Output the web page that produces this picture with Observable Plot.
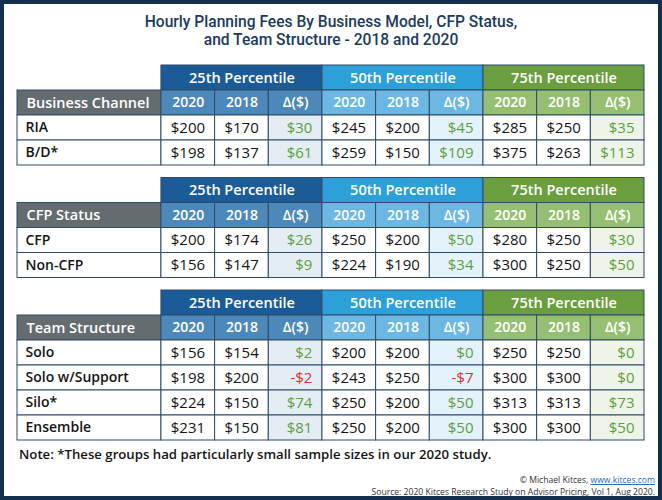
<!DOCTYPE html>
<html>
<head>
<meta charset="utf-8">
<script src="https://cdn.jsdelivr.net/npm/d3@7"></script>
<script src="https://cdn.jsdelivr.net/npm/@observablehq/plot@0.6"></script>
<style>
  html, body { margin: 0; padding: 0; background: #fff; }
  body { width: 662px; height: 500px; position: relative; overflow: hidden; font-family: "Open Sans", "Noto Sans", sans-serif; }
  #frame { position: absolute; left: 0; top: 0; width: 662px; height: 500px; box-sizing: border-box; border: 4px solid #132f4f; pointer-events: none; z-index: 5; }
  .title { position: absolute; left: 0; width: 662px; text-align: center; font-family: Roboto, "Open Sans", sans-serif; font-size: 15.6px; line-height: 16px; font-weight: 500; color: #1d3a5e; white-space: nowrap; }
  #t1 { top: 13.5px; }
  #t2 { top: 32px; }
  #chart { position: absolute; left: 0; top: 60px; }
  #note { position: absolute; left: 19px; top: 445px; font-size: 13.2px; line-height: 18px; font-weight: 600; color: #141414; white-space: nowrap; }
  #credits { position: absolute; right: 7px; top: 475px; font-size: 8.6px; line-height: 11.5px; color: #333; text-align: right; white-space: nowrap; }
  #credits a { color: #2a6db8; text-decoration: underline; }
</style>
</head>
<body>
<div id="frame"></div>
<div class="title" id="t1">Hourly Planning Fees By Business Model, CFP Status,</div>
<div class="title" id="t2">and Team Structure - 2018 and 2020</div>
<div id="chart"></div>
<div id="note">Note: *These groups had particularly small sample sizes in our 2020 study.</div>
<div id="credits">© Michael Kitces, <a>www.kitces.com</a><br>Source: 2020 Kitces Research Study on Advisor Pricing, Vol 1, Aug 2020.</div>
<script>
// ---- data ----
const percentiles = ["25th Percentile", "50th Percentile", "75th Percentile"];
const columnLabels = ["2020", "2018", "Δ($)"];
const sectionTitles = ["Business Channel", "CFP Status", "Team Structure"];

const businessRows = ["RIA", "B/D*"];
// per row: [p25 2020, p25 2018, p25 Δ, p50 2020, p50 2018, p50 Δ, p75 2020, p75 2018, p75 Δ]
const businessValues = [
  [200, 170, 30, 245, 200, 45, 285, 250, 35],
  [198, 137, 61, 259, 150, 109, 375, 263, 113]
];
const cfpRows = ["CFP", "Non-CFP"];
const cfpValues = [
  [200, 174, 26, 250, 200, 50, 280, 250, 30],
  [156, 147, 9, 224, 190, 34, 300, 250, 50]
];
const teamRows = ["Solo", "Solo w/Support", "Silo*", "Ensemble"];
const teamValues = [
  [156, 154, 2, 200, 200, 0, 250, 250, 0],
  [198, 200, -2, 243, 250, -7, 300, 300, 0],
  [224, 150, 74, 250, 200, 50, 313, 313, 73],
  [231, 150, 81, 250, 200, 50, 300, 300, 50]
];

// ---- styles / layout ----
const headFill = ["#1b5c98", "#2da0da", "#6a9e3e"];
const subFill = ["#4d88ba", "#6cb8e3", "#97bf74"];
const deltaFill = ["#e5edf4", "#e4f2fb", "#eef4e8"];
const labelHeadFill = "#656c70";
const gridStroke = "#2f4b69";
const posColor = "#5e9f3f";
const negColor = "#d2342e";
const textColor = "#151515";

const L = 144 / 53.7;          // label column width in value-column units
const sectionStart = [0, 4.5, 9];

const sections = [
  {title: sectionTitles[0], rows: businessRows, values: businessValues},
  {title: sectionTitles[1], rows: cfpRows, values: cfpValues},
  {title: sectionTitles[2], rows: teamRows, values: teamValues}
];

const headCells = [], subCells = [], labelHeadCells = [], rowLabelCells = [], valueCells = [];
sections.forEach((sec, s) => {
  const y0 = sectionStart[s];
  percentiles.forEach((p, k) => {
    headCells.push({x1: L + 3 * k, x2: L + 3 * k + 3, y1: y0, y2: y0 + 1, text: p, fill: headFill[k]});
  });
  labelHeadCells.push({x1: 0, x2: L, y1: y0 + 1, y2: y0 + 2, text: sec.title, fill: labelHeadFill});
  for (let j = 0; j < 9; j++) {
    subCells.push({x1: L + j, x2: L + j + 1, y1: y0 + 1, y2: y0 + 2, text: columnLabels[j % 3], fill: subFill[Math.floor(j / 3)]});
  }
  sec.rows.forEach((label, r) => {
    const yy = y0 + 2 + r;
    rowLabelCells.push({x1: 0, x2: L, y1: yy, y2: yy + 1, text: label, fill: "#ffffff"});
    sec.values[r].forEach((v, j) => {
      const isDelta = j % 3 === 2;
      valueCells.push({
        x1: L + j, x2: L + j + 1, y1: yy, y2: yy + 1,
        text: (v < 0 ? "-$" : "$") + Math.abs(v),
        fill: isDelta ? deltaFill[Math.floor(j / 3)] : "#ffffff",
        color: isDelta ? (v < 0 ? negColor : posColor) : textColor
      });
    });
  });
});

const allCells = [...headCells, ...labelHeadCells, ...subCells, ...rowLabelCells, ...valueCells];
const midY = d => (d.y1 + d.y2) / 2;
const midX = d => (d.x1 + d.x2) / 2;

const chart = Plot.plot({
  width: 662,
  height: 385,
  marginTop: 5,
  marginBottom: 5,
  marginLeft: 17,
  marginRight: 18,
  x: {domain: [0, L + 9], axis: null},
  y: {domain: [0, 15], reverse: true, axis: null},
  color: {type: "identity"},
  style: {fontFamily: "'Open Sans', 'Noto Sans', sans-serif", background: "transparent"},
  marks: [
    Plot.rect(allCells, {x1: "x1", x2: "x2", y1: "y1", y2: "y2", fill: "fill", stroke: gridStroke, strokeWidth: 1}),
    Plot.text(headCells, {x: midX, y: midY, text: "text", fill: "#ffffff", fontSize: 14.5, fontWeight: 600}),
    Plot.text(subCells, {x: midX, y: midY, text: "text", fill: "#ffffff", fontSize: 14, fontWeight: 600}),
    Plot.text(labelHeadCells, {x: "x1", y: midY, dx: 9, text: "text", textAnchor: "start", fill: "#ffffff", fontSize: 14.5, fontWeight: 600}),
    Plot.text(rowLabelCells, {x: "x1", y: midY, dx: 8, text: "text", textAnchor: "start", fill: textColor, fontSize: 14, fontWeight: 600}),
    Plot.text(valueCells, {x: "x2", y: midY, dx: -10, text: "text", textAnchor: "end", fill: "color", fontSize: 15, fontWeight: 500})
  ]
});
document.getElementById("chart").appendChild(chart);
</script>
</body>
</html>
